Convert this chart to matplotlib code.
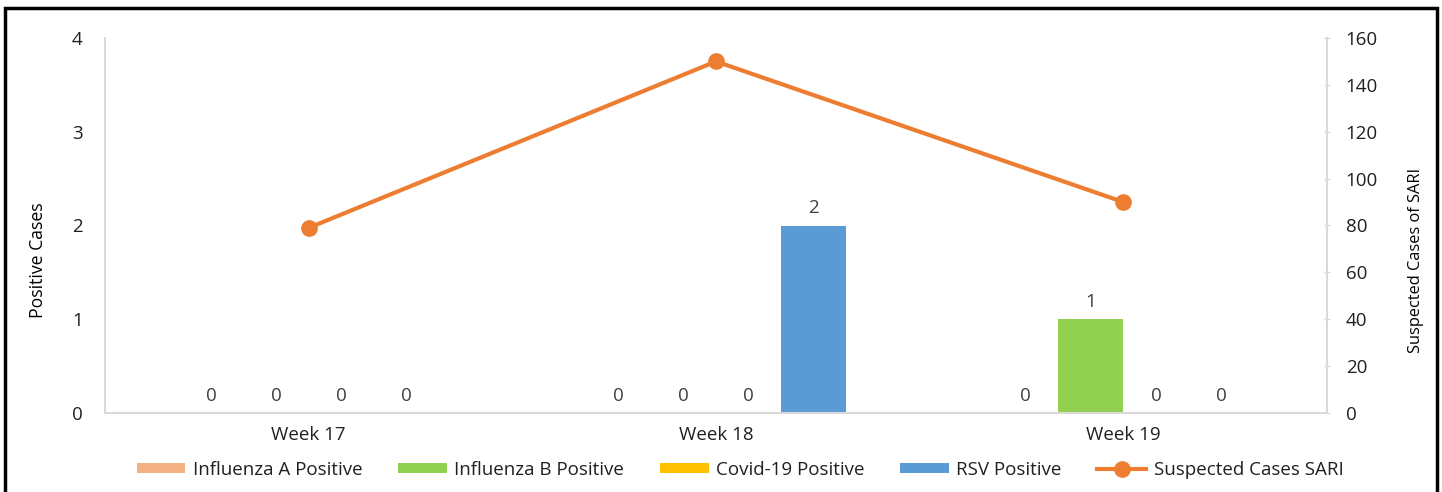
import numpy as np
import matplotlib
matplotlib.use("Agg")
import matplotlib.pyplot as plt
from matplotlib.patches import Rectangle

plt.rcParams['font.family'] = ['Open Sans', 'DejaVu Sans']

# data
weeks = ["Week 17", "Week 18", "Week 19"]
flu_a = [0, 0, 0]
flu_b = [0, 0, 1]
covid = [0, 0, 0]
rsv = [0, 2, 0]
sari = [79, 150, 90]

series_names = ["Influenza A Positive", "Influenza B Positive", "Covid-19 Positive", "RSV Positive"]
series_vals = [flu_a, flu_b, covid, rsv]
colors = ["#F4B183", "#92D050", "#FFC000", "#5B9BD5"]
line_color = "#ED7D31"
text_color = "#404040"
fs = 13.5

W, H = 1442, 492
fig = plt.figure(figsize=(W / 100, H / 100), dpi=100)
ax = fig.add_axes([105 / W, 1 - 413 / H, (1327 - 105) / W, (413 - 38) / H])

x = np.arange(len(weeks))
bw = 0.16
offsets = np.array([-1.5, -0.5, 0.5, 1.5]) * bw
for vals, name, c, off in zip(series_vals, series_names, colors, offsets):
    bars = ax.bar(x + off, vals, width=bw, color=c, label=name, zorder=2)
    for b, v in zip(bars, vals):
        ax.annotate(str(v), (b.get_x() + b.get_width() / 2, v), xytext=(0, 6),
                    textcoords="offset points", ha="center", va="bottom",
                    fontsize=fs, color=text_color)

ax.set_xlim(-0.5, len(weeks) - 0.5)
ax.set_ylim(0, 4)
ax.set_yticks([0, 1, 2, 3, 4])
ax.set_xticks(x)
ax.set_xticklabels(weeks)
ax.tick_params(axis="x", length=0, pad=9, labelsize=fs, labelcolor="#202020")
ax.tick_params(axis="y", length=0, pad=16, labelsize=fs, labelcolor="#202020")
for s in ["top", "right"]:
    ax.spines[s].set_visible(False)
for s in ["left", "bottom"]:
    ax.spines[s].set_color("#D9D9D9")
    ax.spines[s].set_linewidth(1.5)

ax2 = ax.twinx()
ax2.plot(x, sari, color=line_color, lw=3, marker="o", markersize=11,
         label="Suspected Cases SARI", zorder=3)
ax2.set_ylim(0, 160)
ax2.set_yticks(np.arange(0, 161, 20))
ax2.tick_params(axis="y", direction="inout", length=5, color="#D9D9D9", pad=11,
                labelsize=fs, labelcolor="#202020")
for s in ["top", "left", "bottom"]:
    ax2.spines[s].set_visible(False)
ax2.spines["right"].set_color("#D9D9D9")
ax2.spines["right"].set_linewidth(1.5)

fig.text(38 / W, 1 - 260 / H, "Positive Cases", rotation=90, ha="center", va="center", fontsize=12.7)
fig.text(1416 / W, 1 - 260 / H, "Suspected Cases of SARI", rotation=90, ha="center", va="center", fontsize=11.8)

h1, l1 = ax.get_legend_handles_labels()
h2, l2 = ax2.get_legend_handles_labels()
fig.legend(h1 + h2, l1 + l2, loc="center", bbox_to_anchor=(740 / W, 1 - 470 / H), ncol=5,
           frameon=False, fontsize=fs, handlelength=2.6, handleheight=0.45,
           columnspacing=1.9, handletextpad=0.4, labelcolor="#202020")

fig.add_artist(Rectangle((5 / W, -0.05), 1432 / W, 1.05 - 8 / H, transform=fig.transFigure,
                         fill=False, edgecolor="black", linewidth=2.5))

fig.savefig("out.png", dpi=100)
